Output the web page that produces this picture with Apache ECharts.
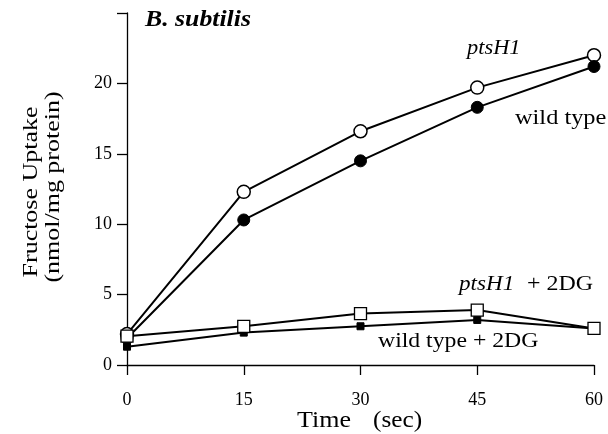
<!DOCTYPE html>
<html><head><meta charset="utf-8">
<script src="https://cdn.jsdelivr.net/npm/echarts@6/dist/echarts.min.js"></script>
<style>html,body{margin:0;padding:0;background:#fff}#c{width:608px;height:434px}</style>
</head><body><div id="c"></div>
<script>
const times = [0, 15, 30, 45, 60];
const ptsH1 = [2.2, 12.3, 16.6, 19.7, 22.0];
const wildType = [1.9, 10.3, 14.5, 18.3, 21.2];
const ptsH1_2DG = [2.05, 2.75, 3.65, 3.9, 2.6];
const wildType_2DG = [1.3, 2.3, 2.75, 3.2, 2.6];

const F = '"Liberation Serif", "Times New Roman", serif';
const pairs = arr => times.map((t, i) => [t, arr[i]]);
const base = { type: 'line', lineStyle: { color: '#000', width: 2 }, z: 3 };

function txt(text, x, y, size, sx, opts) {
  opts = opts || {};
  return {
    type: 'text', x: x, y: y, scaleX: sx, rotation: opts.rot || 0,
    style: { text: text, font: (opts.style || '') + ' ' + size + 'px ' + F, fill: '#000',
      align: opts.align || 'left', verticalAlign: 'middle' }
  };
}

const chart = echarts.init(document.getElementById('c'));
chart.setOption({
  animation: false,
  backgroundColor: '#fff',
  grid: { left: 127, right: 14, top: 13, bottom: 69 },
  xAxis: {
    type: 'value', min: 0, max: 60, interval: 15,
    axisLine: { onZero: false, lineStyle: { color: '#000', width: 1.3 } },
    axisTick: { length: 10, lineStyle: { color: '#000', width: 1.3 } },
    axisLabel: { color: '#000', fontFamily: F, fontSize: 18, margin: 26 },
    splitLine: { show: false }
  },
  yAxis: {
    type: 'value', min: 0, max: 25, interval: 5,
    axisLine: { show: true, lineStyle: { color: '#000', width: 1.3 } },
    axisTick: { show: true, length: 10, lineStyle: { color: '#000', width: 1.3 } },
    axisLabel: { color: '#000', fontFamily: F, fontSize: 18, margin: 15,
      formatter: v => (v === 25 ? '' : String(v)) },
    splitLine: { show: false }
  },
  series: [
    Object.assign({}, base, { name: 'ptsH1', data: pairs(ptsH1), symbol: 'circle', symbolSize: 13, itemStyle: { color: '#fff', borderColor: '#000', borderWidth: 1.5 } }),
    Object.assign({}, base, { name: 'wild type', data: pairs(wildType), symbol: 'circle', symbolSize: 12, itemStyle: { color: '#000', borderColor: '#000', borderWidth: 1 } }),
    Object.assign({}, base, { name: 'ptsH1 + 2DG', data: pairs(ptsH1_2DG), symbol: 'rect', symbolSize: 12, itemStyle: { color: '#fff', borderColor: '#000', borderWidth: 1.3 } }),
    Object.assign({}, base, { name: 'wild type + 2DG', data: pairs(wildType_2DG), symbol: 'rect', symbolSize: 7, z: 2, itemStyle: { color: '#000', borderColor: '#000', borderWidth: 1 } })
  ],
  graphic: [
    txt('B. subtilis', 145, 20, 23, 1.12, { style: 'italic bold' }),
    txt('ptsH1', 467, 49, 20, 1.12, { style: 'italic' }),
    txt('wild type', 515, 118, 21, 1.16),
    txt('ptsH1', 459, 284, 21, 1.1, { style: 'italic' }),
    txt('+ 2DG', 527, 284, 21, 1.14),
    txt('wild type + 2DG', 378, 341, 21, 1.13),
    txt('Time', 297, 421, 23, 1.13),
    txt('(sec)', 373, 421, 23, 1.1),
    txt('Fructose Uptake', 31, 192, 22, 1.18, { rot: Math.PI / 2, align: 'center' }),
    txt('(nmol/mg protein)', 53, 187, 22, 1.18, { rot: Math.PI / 2, align: 'center' })
  ]
});
</script></body></html>
